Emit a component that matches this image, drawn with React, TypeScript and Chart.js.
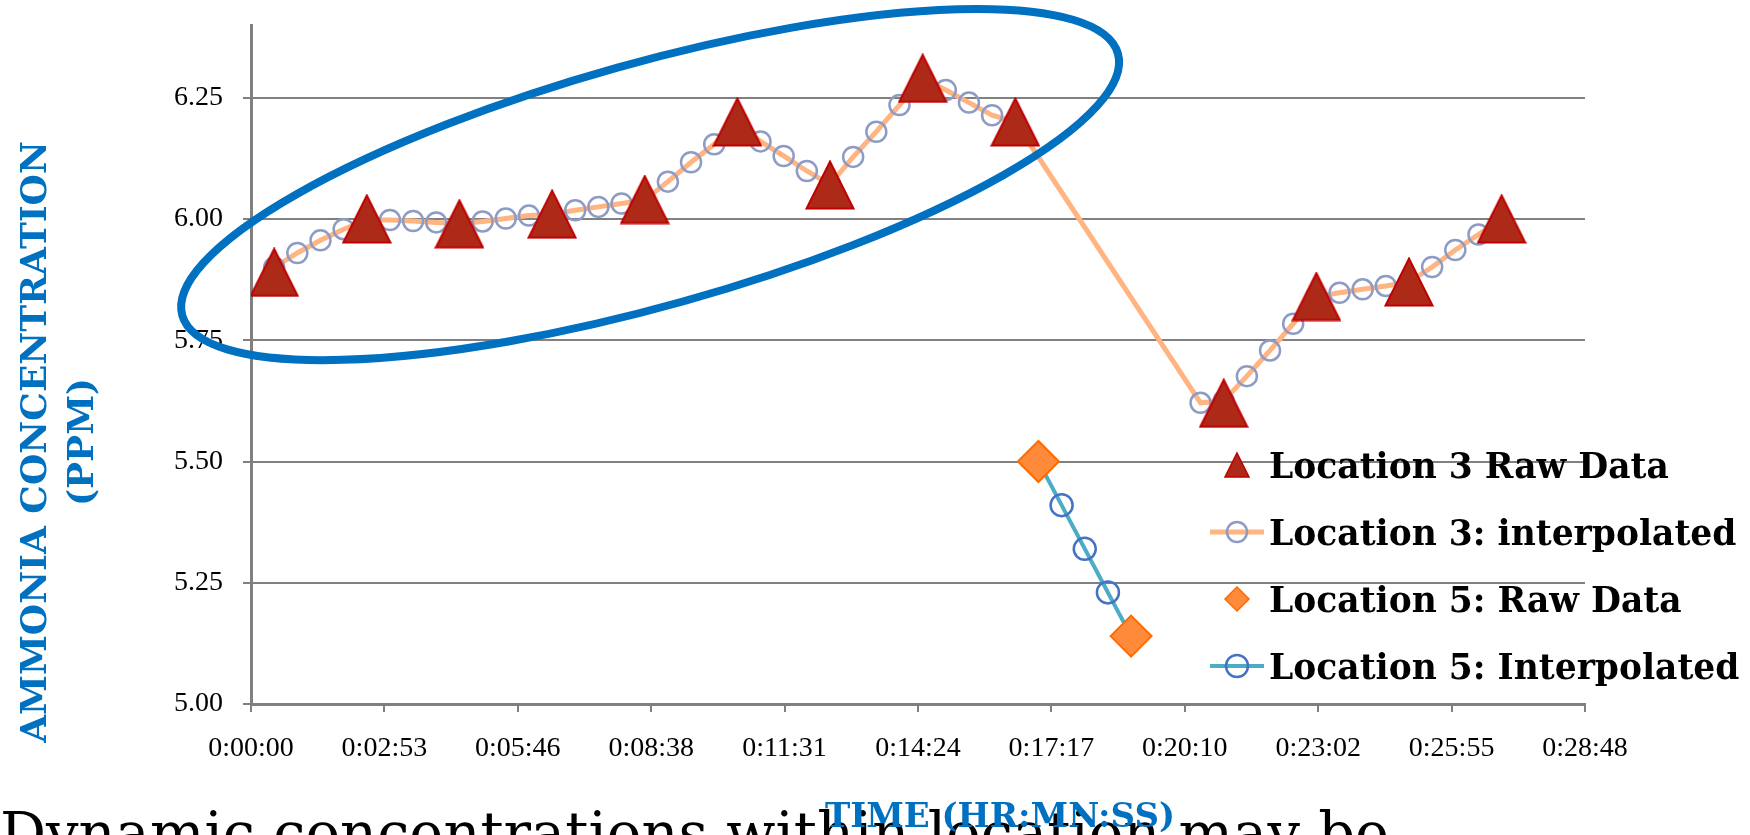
import React, { useEffect, useRef } from 'react';
import { Chart, registerables } from 'chart.js';

Chart.register(...registerables);

// ---------- data ----------
const X_TICK_STEP_SECONDS = 172.8;
const X_TICK_LABELS = ['0:00:00', '0:02:53', '0:05:46', '0:08:38', '0:11:31', '0:14:24', '0:17:17', '0:20:10', '0:23:02', '0:25:55', '0:28:48'];
const Y_TICK_VALUES = [5.0, 5.25, 5.5, 5.75, 6.0, 6.25];
const Y_MIN = 5.0;
const Y_MAX = 6.4;

const SERIES_LABELS = ['Location 3 Raw Data', 'Location 3: interpolated', 'Location 5: Raw Data', 'Location 5: Interpolated'];

const L3_RAW_SECONDS = [30, 150, 270, 390, 510, 630, 750, 870, 990, 1260, 1380, 1500, 1620];
const L3_RAW_PPM = [5.89, 6.0, 5.99, 6.01, 6.04, 6.2, 6.07, 6.29, 6.2, 5.62, 5.84, 5.87, 6.0];

const L3_INTERP_SECONDS = [
  30, 60, 90, 120, 150, 180, 210, 240, 270, 300, 330, 360, 390, 420, 450, 480, 510, 540, 570, 600,
  630, 660, 690, 720, 750, 780, 810, 840, 870, 900, 930, 960, 990,
  1230, 1260, 1290, 1320, 1350, 1380, 1410, 1440, 1470, 1500, 1530, 1560, 1590, 1620,
];
const L3_INTERP_PPM = [
  5.9, 5.93, 5.956, 5.979, 5.998, 5.998, 5.996, 5.993, 5.99, 5.995, 6.001, 6.007, 6.01, 6.018, 6.025, 6.032, 6.039, 6.077, 6.117, 6.154,
  6.2, 6.16, 6.13, 6.099, 6.071, 6.128, 6.18, 6.235, 6.29, 6.266, 6.24, 6.214, 6.2,
  5.621, 5.625, 5.676, 5.729, 5.784, 5.84, 5.848, 5.855, 5.862, 5.87, 5.901, 5.936, 5.968, 6.0,
];

const L5_RAW_SECONDS = [1020, 1140];
const L5_RAW_PPM = [5.5, 5.14];

const L5_INTERP_SECONDS = [1020, 1050, 1080, 1110, 1140];
const L5_INTERP_PPM = [5.5, 5.41, 5.32, 5.23, 5.14];

// highlight ellipse (data coordinates: [seconds, ppm])
const ELLIPSE_CENTER = [517, 6.071];
const ELLIPSE_MAJOR_END = [1123, 6.341];
const ELLIPSE_MINOR_RATIO = 0.25;

const X_TITLE = 'TIME (HR:MN:SS)';
const Y_TITLE_LINES = ['AMMONIA CONCENTRATION', '(PPM)'];
const SLIDE_TEXT = 'Dynamic concentrations within location may be';

// ---------- styles ----------
const GRID = '#808080';
const BLUE_TITLE = '#0070C0';
const TRI_FILL = '#AE2A18';
const TRI_STROKE = '#C00000';
const DIA_FILL = '#FF8B3A';
const DIA_STROKE = '#FF6A00';
const L3_LINE = '#FFB482';
const L3_CIRCLE = '#8E9CC5';
const L5_LINE = '#4BACC6';
const L5_CIRCLE = '#4472C4';

const toPoints = (xs: number[], ys: number[]) => xs.map((x, i) => ({ x, y: ys[i] }));

function makeTriangleImage(size: number) {
  const c = document.createElement('canvas');
  c.width = size;
  c.height = size;
  const g = c.getContext('2d')!;
  const m = 1.5;
  g.beginPath();
  g.moveTo(size / 2, m);
  g.lineTo(size - m, size - m);
  g.lineTo(m, size - m);
  g.closePath();
  g.fillStyle = TRI_FILL;
  g.fill();
  g.lineWidth = 2;
  g.strokeStyle = TRI_STROKE;
  g.lineJoin = 'miter';
  g.stroke();
  return c;
}

const overlayPlugin = {
  id: 'overlay',
  beforeDraw(chart: any) {
    const ctx = chart.ctx;
    ctx.save();
    ctx.fillStyle = '#000000';
    ctx.font = '57.5px "DejaVu Serif"';
    ctx.textAlign = 'left';
    ctx.textBaseline = 'alphabetic';
    ctx.fillText(SLIDE_TEXT, 0, 853);
    ctx.restore();
  },
  afterDatasetsDraw(chart: any) {
    const ctx = chart.ctx;
    const xs = chart.scales.x;
    const ys = chart.scales.y;
    const cx = xs.getPixelForValue(ELLIPSE_CENTER[0]);
    const cy = ys.getPixelForValue(ELLIPSE_CENTER[1]);
    const ex = xs.getPixelForValue(ELLIPSE_MAJOR_END[0]);
    const ey = ys.getPixelForValue(ELLIPSE_MAJOR_END[1]);
    const a = Math.hypot(ex - cx, ey - cy);
    const rot = Math.atan2(ey - cy, ex - cx);
    ctx.save();
    ctx.beginPath();
    ctx.ellipse(cx, cy, a, a * ELLIPSE_MINOR_RATIO, rot, 0, Math.PI * 2);
    ctx.lineWidth = 8;
    ctx.strokeStyle = BLUE_TITLE;
    ctx.stroke();
    ctx.restore();
  },
  afterDraw(chart: any) {
    const ctx = chart.ctx;
    ctx.save();
    // axis titles
    ctx.fillStyle = BLUE_TITLE;
    ctx.font = 'bold 34px "DejaVu Serif"';
    ctx.textAlign = 'center';
    ctx.textBaseline = 'alphabetic';
    ctx.fillText(X_TITLE, 1000, 827);

    ctx.save();
    ctx.translate(0, 442);
    ctx.rotate(-Math.PI / 2);
    ctx.font = 'bold 36px "DejaVu Serif"';
    ctx.textAlign = 'center';
    ctx.fillText(Y_TITLE_LINES[0], 0, 45.5);
    ctx.fillText(Y_TITLE_LINES[1], 0, 93);
    ctx.restore();

    // legend
    const mx = 1237;
    const textX = 1269;
    const rows = [465, 532, 599, 666];
    ctx.font = 'bold 34.5px "DejaVu Serif"';
    ctx.textAlign = 'left';
    ctx.textBaseline = 'alphabetic';
    SERIES_LABELS.forEach((label, i) => {
      const cy = rows[i];
      if (i === 0) {
        ctx.beginPath();
        ctx.moveTo(mx, cy - 12);
        ctx.lineTo(mx + 12, cy + 12);
        ctx.lineTo(mx - 12, cy + 12);
        ctx.closePath();
        ctx.fillStyle = TRI_FILL;
        ctx.fill();
        ctx.lineWidth = 1.5;
        ctx.strokeStyle = TRI_STROKE;
        ctx.stroke();
      } else if (i === 2) {
        ctx.beginPath();
        ctx.moveTo(mx - 12, cy);
        ctx.lineTo(mx, cy - 12);
        ctx.lineTo(mx + 12, cy);
        ctx.lineTo(mx, cy + 12);
        ctx.closePath();
        ctx.fillStyle = DIA_FILL;
        ctx.fill();
        ctx.lineWidth = 1.5;
        ctx.strokeStyle = DIA_STROKE;
        ctx.stroke();
      } else {
        const lineColor = i === 1 ? L3_LINE : L5_LINE;
        const circColor = i === 1 ? L3_CIRCLE : L5_CIRCLE;
        ctx.beginPath();
        ctx.moveTo(mx - 27, cy);
        ctx.lineTo(mx + 27, cy);
        ctx.lineWidth = i === 1 ? 5 : 4;
        ctx.strokeStyle = lineColor;
        ctx.stroke();
        ctx.beginPath();
        ctx.arc(mx, cy, i === 1 ? 10 : 11, 0, Math.PI * 2);
        ctx.lineWidth = 2.5;
        ctx.strokeStyle = circColor;
        ctx.stroke();
      }
      ctx.fillStyle = '#000000';
      ctx.fillText(label, textX, cy + 13);
    });
    ctx.restore();
  },
};

export default function App() {
  const canvasRef = useRef<HTMLCanvasElement | null>(null);

  useEffect(() => {
    if (!canvasRef.current) return;
    const triangle = makeTriangleImage(50);
    const tickFont = { family: '"Liberation Serif", serif', size: 28 };

    const chart = new Chart(canvasRef.current, {
      type: 'scatter',
      data: {
        datasets: [
          {
            label: SERIES_LABELS[0],
            data: toPoints(L3_RAW_SECONDS, L3_RAW_PPM),
            showLine: false,
            pointStyle: triangle as any,
            pointRadius: 24,
            borderColor: TRI_STROKE,
            backgroundColor: TRI_FILL,
          },
          {
            label: SERIES_LABELS[1],
            data: toPoints(L3_INTERP_SECONDS, L3_INTERP_PPM),
            showLine: true,
            borderColor: L3_LINE,
            borderWidth: 5,
            tension: 0,
            pointStyle: 'circle',
            pointRadius: 10,
            pointBorderWidth: 2.5,
            pointBorderColor: L3_CIRCLE,
            pointBackgroundColor: 'rgba(0,0,0,0)',
            backgroundColor: 'rgba(0,0,0,0)',
          },
          {
            label: SERIES_LABELS[2],
            data: toPoints(L5_RAW_SECONDS, L5_RAW_PPM),
            showLine: false,
            pointStyle: 'rectRot',
            pointRadius: 20.5,
            pointBorderWidth: 2,
            pointBorderColor: DIA_STROKE,
            pointBackgroundColor: DIA_FILL,
            borderColor: DIA_STROKE,
            backgroundColor: DIA_FILL,
          },
          {
            label: SERIES_LABELS[3],
            data: toPoints(L5_INTERP_SECONDS, L5_INTERP_PPM),
            showLine: true,
            borderColor: L5_LINE,
            borderWidth: 4,
            tension: 0,
            pointStyle: 'circle',
            pointRadius: 11,
            pointBorderWidth: 2.5,
            pointBorderColor: L5_CIRCLE,
            pointBackgroundColor: 'rgba(0,0,0,0)',
            backgroundColor: 'rgba(0,0,0,0)',
          },
        ],
      },
      options: {
        responsive: false,
        animation: false,
        devicePixelRatio: 1,
        layout: { padding: { left: 0, right: 165, top: 25, bottom: 0 } },
        plugins: {
          legend: { display: false },
          tooltip: { enabled: false },
          title: { display: false },
        },
        scales: {
          x: {
            type: 'linear',
            min: 0,
            max: X_TICK_STEP_SECONDS * (X_TICK_LABELS.length - 1),
            afterBuildTicks: (scale: any) => {
              scale.ticks = X_TICK_LABELS.map((_, i) => ({ value: i * X_TICK_STEP_SECONDS }));
            },
            afterFit: (scale: any) => {
              scale.height = 131;
            },
            ticks: {
              autoSkip: false,
              maxRotation: 0,
              minRotation: 0,
              padding: 20,
              color: '#000000',
              font: tickFont,
              callback: (_v: any, index: number) => X_TICK_LABELS[index],
            },
            grid: {
              drawOnChartArea: false,
              drawTicks: true,
              tickLength: 8,
              color: GRID,
              lineWidth: 2,
            },
            border: { display: true, color: GRID, width: 3 },
            title: { display: false },
          },
          y: {
            type: 'linear',
            min: Y_MIN,
            max: Y_MAX,
            afterBuildTicks: (scale: any) => {
              scale.ticks = Y_TICK_VALUES.map((v) => ({ value: v }));
            },
            afterFit: (scale: any) => {
              scale.width = 251;
              scale.paddingTop = 0;
              scale.paddingBottom = 0;
            },
            ticks: {
              padding: 20,
              color: '#000000',
              font: tickFont,
              callback: (v: any) => Number(v).toFixed(2),
            },
            grid: {
              drawOnChartArea: true,
              drawTicks: true,
              tickLength: 8,
              color: GRID,
              lineWidth: 2,
            },
            border: { display: true, color: GRID, width: 3 },
            title: { display: false },
          },
        },
      },
      plugins: [overlayPlugin],
    } as any);

    return () => chart.destroy();
  }, []);

  return (
    <div style={{ position: 'fixed', left: 0, top: 0, width: 1750, height: 835, overflow: 'hidden', background: '#ffffff' }}>
      <canvas ref={canvasRef} width={1750} height={835} style={{ display: 'block', width: 1750, height: 835 }} />
    </div>
  );
}
